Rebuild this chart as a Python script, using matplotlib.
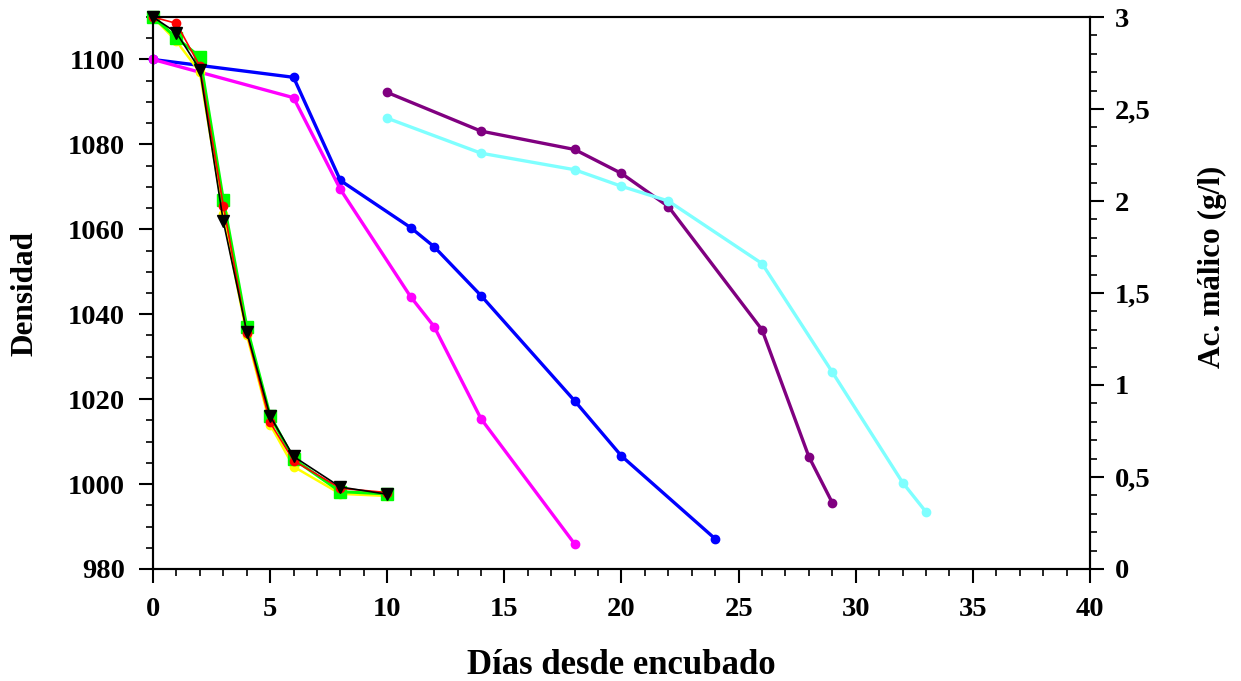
import matplotlib.pyplot as plt
from matplotlib.ticker import MultipleLocator, FuncFormatter

plt.rcParams['font.family'] = 'Liberation Serif'
plt.rcParams['font.weight'] = 'bold'

# Densidad - primeros ensayos (dias 0..10)
dias_a = [0, 1, 2, 3, 4, 5, 6, 8, 10]
dens_amarillo = [1110, 1104.3, 1097.0, 1063.5, 1035.2, 1014.0, 1004.1, 997.7, 997.2]
dens_verde = [1110, 1105.1, 1100.6, 1067.0, 1037.1, 1016.1, 1005.9, 998.2, 997.7]
dens_rojo = [1110, 1108.5, 1098.4, 1065.6, 1035.6, 1014.5, 1005.5, 999.0, 998.0]
dens_negro = [1110, 1106.3, 1097.6, 1061.9, 1035.9, 1016.0, 1006.5, 999.3, 997.6]

# Densidad - ensayos largos
dias_azul = [0, 6, 8, 11, 12, 14, 18, 20, 24]
dens_azul = [1100, 1095.8, 1071.5, 1060.4, 1055.9, 1044.4, 1019.6, 1006.6, 987.1]
dias_magenta = [0, 6, 8, 11, 12, 14, 18]
dens_magenta = [1100, 1091.0, 1069.4, 1044.1, 1037.1, 1015.4, 985.9]

# Acido malico (g/l)
dias_morado = [10, 14, 18, 20, 22, 26, 28, 29]
malico_morado = [2.59, 2.38, 2.28, 2.15, 1.97, 1.30, 0.61, 0.36]
dias_cian = [10, 14, 18, 20, 22, 26, 29, 32, 33]
malico_cian = [2.45, 2.26, 2.17, 2.08, 2.00, 1.66, 1.07, 0.47, 0.31]

fig = plt.figure(figsize=(12.41, 6.81), dpi=100)
ax = fig.add_axes([0.1233, 0.1645, 0.755, 0.8105])
ax2 = ax.twinx()

lw = 2.4
ax.plot(dias_azul, dens_azul, color='#0000ff', lw=lw, marker='o', ms=6, clip_on=False)
ax.plot(dias_magenta, dens_magenta, color='#ff00ff', lw=lw, marker='o', ms=6, clip_on=False)
ax.plot(dias_a, dens_amarillo, color='#ffff00', lw=1.8, marker='o', ms=6, clip_on=False)
ax.plot(dias_a, dens_verde, color='#00ff00', lw=2.2, marker='s', ms=8, clip_on=False)
ax.plot(dias_a, dens_rojo, color='#ff0000', lw=1.2, marker='o', ms=6, clip_on=False)
ax.plot(dias_a, dens_negro, color='black', lw=1.2, marker='v', ms=8, clip_on=False)

ax2.plot(dias_morado, malico_morado, color='#800080', lw=lw, marker='o', ms=6)
ax2.plot(dias_cian, malico_cian, color='#7fffff', lw=lw, marker='o', ms=6)

ax.set_xlim(0, 40)
ax.set_ylim(980, 1110)
ax2.set_ylim(0, 3)

ax.xaxis.set_major_locator(MultipleLocator(5))
ax.xaxis.set_minor_locator(MultipleLocator(1))
ax.yaxis.set_major_locator(MultipleLocator(20))
ax.yaxis.set_minor_locator(MultipleLocator(5))
ax2.yaxis.set_major_locator(MultipleLocator(0.5))
ax2.yaxis.set_minor_locator(MultipleLocator(0.1))
ax2.yaxis.set_major_formatter(FuncFormatter(lambda v, p: ('%g' % v).replace('.', ',')))

for a in (ax, ax2):
    for s in a.spines.values():
        s.set_linewidth(1.5)
    a.tick_params(which='major', direction='out', length=10, width=1.5, labelsize=20.5, pad=8)
    a.tick_params(which='minor', direction='out', length=5, width=1.2)
ax.tick_params(axis='y', which='both', right=False)
ax.tick_params(axis='y', which='major', pad=10)
ax.tick_params(axis='x', which='both', top=False)
ax.tick_params(axis='x', which='major', pad=10)

ax.set_xlabel('Días desde encubado', fontsize=25, fontweight='bold')
ax.xaxis.set_label_coords(0.5, -0.145)
ax.set_ylabel('Densidad', fontsize=22.5, fontweight='bold')
ax.yaxis.set_label_coords(-0.121, 0.5)
ax2.set_ylabel('Ac. málico (g/l)', fontsize=22.5, fontweight='bold')
ax2.yaxis.set_label_coords(1.115, 0.547)

fig.savefig('out.png', dpi=100)
